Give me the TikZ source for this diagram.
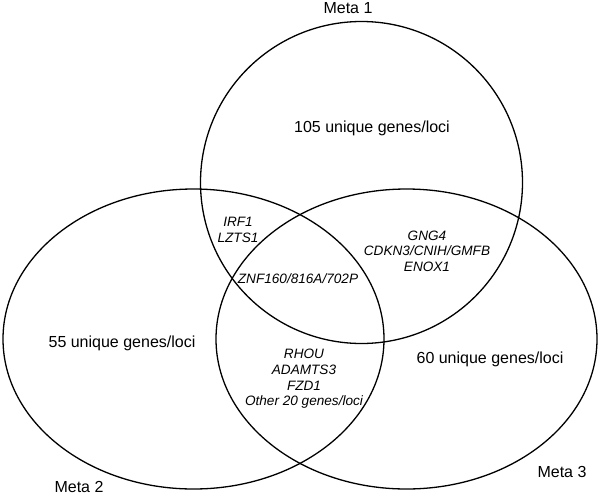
\documentclass[tikz,border=0pt]{standalone}
\usepackage{fontspec}
\setmainfont{Liberation Sans}
\usepackage{tikz}
\usetikzlibrary{positioning}

\begin{document}
\begin{tikzpicture}[
	x=0.5pt, y=-0.5pt,
	set/.style={line width=0.65pt},
	label/.style={font=\fontsize{8}{9.6}\selectfont, inner sep=0pt},
	genes/.style={font=\fontsize{6.8}{7.8}\selectfont\itshape, align=center, inner sep=0pt}
	]

	\def\rA{161} % radius of Meta 1
	\def\rx{190.5} % half width of Meta 2 and Meta 3
	\def\ry{150} % half height of Meta 2 and Meta 3

	\useasboundingbox (0,0) rectangle (600,493);

	% centres of the sets
	\coordinate (metaOne) at (361.5,182.5);
	\coordinate (metaTwo) at (193.5,339);
	\coordinate (metaThree) at (406.5,339);

	% the three sets
	\draw[set] (metaOne) circle [radius=\rA];
	\draw[set] (metaTwo) ellipse [x radius=\rx, y radius=\ry];
	\draw[set] (metaThree) ellipse [x radius=\rx, y radius=\ry];

	% set names
	\node[label] (nameOne) at (348,8) {Meta 1};
	\node[label] (nameTwo) at (79,487) {Meta 2};
	\node[label] (nameThree) at (562,472) {Meta 3};

	% unique counts
	\node[label] (onlyOne) at (372,128) {105 unique genes/loci};
	\node[label] (onlyTwo) at (122,343) {55 unique genes/loci};
	\node[label] (onlyThree) at (490,359) {60 unique genes/loci};

	% overlaps
	\node[genes] (oneTwo) at (238,230) {IRF1\\LZTS1};
	\node[genes] (oneThree) at (427,251) {GNG4\\CDKN3/CNIH/GMFB\\ENOX1};
	\node[genes] (allThree) at (298,279) {ZNF160/816A/702P};
	\node[genes] (twoThree) at (304,379) {RHOU\\ADAMTS3\\FZD1\\Other 20 genes/loci};

\end{tikzpicture}
\end{document}
